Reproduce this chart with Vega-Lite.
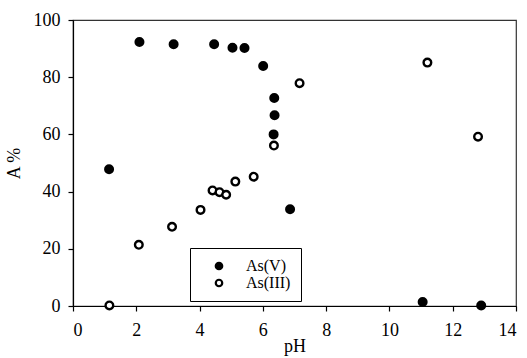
{
  "$schema": "https://vega.github.io/schema/vega-lite/v6.json",
  "autosize": {"type": "none"},
  "padding": {"left": 73, "top": 20, "right": 11, "bottom": 52},
  "width": 443,
  "height": 286,
  "config": {
    "view": {"stroke": "#333", "strokeWidth": 1.2},
    "font": "Liberation Serif",
    "axis": {
      "grid": false,
      "domainColor": "#000",
      "tickColor": "#000",
      "labelColor": "#000",
      "titleColor": "#000",
      "labelFont": "Liberation Serif",
      "titleFont": "Liberation Serif",
      "labelFontSize": 18,
      "titleFontSize": 18,
      "titleFontWeight": "normal",
      "tickSize": 5,
      "domainWidth": 1.2,
      "tickWidth": 1.2
    }
  },
  "data": {
    "values": [
      {"pH": 1.14, "A": 47.8, "series": "As(V)"},
      {"pH": 2.10, "A": 92.3, "series": "As(V)"},
      {"pH": 3.18, "A": 91.5, "series": "As(V)"},
      {"pH": 4.46, "A": 91.5, "series": "As(V)"},
      {"pH": 5.04, "A": 90.3, "series": "As(V)"},
      {"pH": 5.42, "A": 90.2, "series": "As(V)"},
      {"pH": 6.01, "A": 83.9, "series": "As(V)"},
      {"pH": 6.36, "A": 72.7, "series": "As(V)"},
      {"pH": 6.37, "A": 66.7, "series": "As(V)"},
      {"pH": 6.34, "A": 60.0, "series": "As(V)"},
      {"pH": 6.86, "A": 33.8, "series": "As(V)"},
      {"pH": 11.05, "A": 1.4, "series": "As(V)"},
      {"pH": 12.9, "A": 0.2, "series": "As(V)"},
      {"pH": 1.15, "A": 0.2, "series": "As(III)"},
      {"pH": 2.08, "A": 21.4, "series": "As(III)"},
      {"pH": 3.13, "A": 27.7, "series": "As(III)"},
      {"pH": 4.03, "A": 33.6, "series": "As(III)"},
      {"pH": 4.41, "A": 40.4, "series": "As(III)"},
      {"pH": 4.63, "A": 39.8, "series": "As(III)"},
      {"pH": 4.84, "A": 38.9, "series": "As(III)"},
      {"pH": 5.13, "A": 43.5, "series": "As(III)"},
      {"pH": 5.71, "A": 45.2, "series": "As(III)"},
      {"pH": 6.35, "A": 56.1, "series": "As(III)"},
      {"pH": 7.16, "A": 77.9, "series": "As(III)"},
      {"pH": 11.2, "A": 85.1, "series": "As(III)"},
      {"pH": 12.8, "A": 59.2, "series": "As(III)"}
    ]
  },
  "mark": {"type": "point", "shape": "circle", "stroke": "#000", "strokeWidth": 2.4, "size": 58, "opacity": 1, "clip": false},
  "encoding": {
    "x": {
      "field": "pH", "type": "quantitative",
      "scale": {"domain": [0, 14], "nice": false, "zero": false},
      "axis": {"values": [0, 2, 4, 6, 8, 10, 12, 14], "title": "pH", "labelPadding": 10, "titlePadding": -2}
    },
    "y": {
      "field": "A", "type": "quantitative",
      "scale": {"domain": [0, 100], "nice": false},
      "axis": {"values": [0, 20, 40, 60, 80, 100], "title": "A %", "labelPadding": 8, "titlePadding": 10}
    },
    "fill": {
      "field": "series", "type": "nominal",
      "scale": {"domain": ["As(V)", "As(III)"], "range": ["#000", "#fff"]},
      "legend": {
        "title": null,
        "orient": "none",
        "legendX": 117,
        "legendY": 228,
        "strokeColor": "#000",
        "fillColor": "#fff",
        "padding": 10,
        "labelFont": "Liberation Serif",
        "labelFontSize": 16,
        "labelColor": "#000",
        "symbolSize": 42,
        "symbolStrokeWidth": 2.2,
        "symbolStrokeColor": "#000",
        "symbolOffset": 11,
        "labelOffset": 19,
        "rowPadding": 1,
        "offset": 0
      }
    }
  }
}
